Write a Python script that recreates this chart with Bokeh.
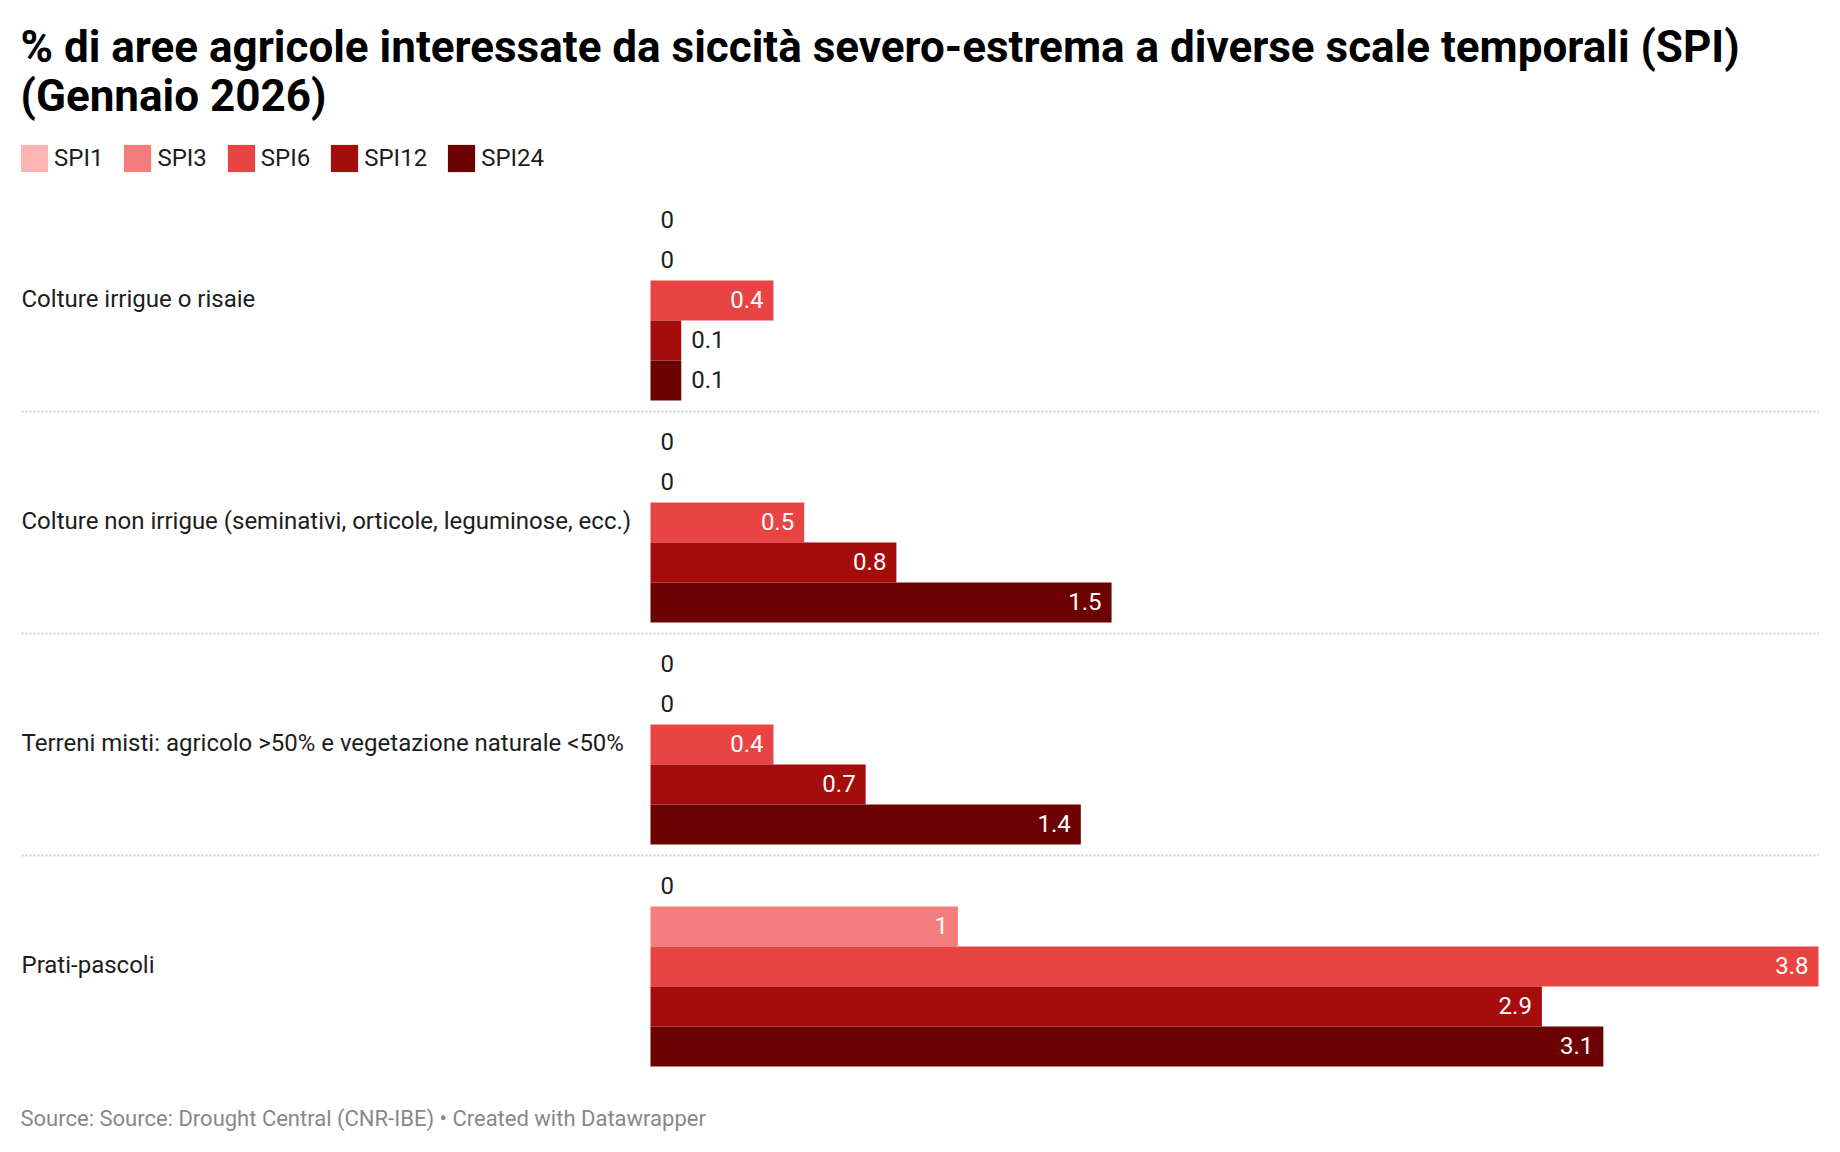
from bokeh.plotting import figure
from bokeh.models import Range1d, Legend, LegendItem, ColumnDataSource
from bokeh.core.properties import value
from bokeh.embed import file_html
from bokeh.resources import INLINE

# ---------------- data ----------------
categories = [
    "Colture irrigue o risaie",
    "Colture non irrigue (seminativi, orticole, leguminose, ecc.)",
    "Terreni misti: agricolo >50% e vegetazione naturale <50%",
    "Prati-pascoli",
]
series_names = ["SPI1", "SPI3", "SPI6", "SPI12", "SPI24"]
spi1 = [0, 0, 0, 0]
spi3 = [0, 0, 0, 1]
spi6 = [0.4, 0.5, 0.4, 3.8]
spi12 = [0.1, 0.8, 0.7, 2.9]
spi24 = [0.1, 1.5, 1.4, 3.1]
series_values = [spi1, spi3, spi6, spi12, spi24]

title_lines = [
    "% di aree agricole interessate da siccità severo-estrema a diverse scale temporali (SPI)",
    "(Gennaio 2026)",
]
footer_text = "Source: Source: Drought Central (CNR-IBE) • Created with Datawrapper"

# ---------------- style / layout ----------------
colors = ["#fcb4b4", "#f47c7c", "#e94444", "#a50d0d", "#6d0202"]
FONT = "Roboto"
W, H = 1824, 1136
LEFT = 21          # left edge of texts
RIGHT = 1818       # right edge of chart area
ZERO = 650         # pixel position of value 0
TOP = 200          # top of first group
BAR_H = 40
GAP = 22
N_SER = len(series_names)
GROUP_H = N_SER * BAR_H
VAL_FS = 24

max_val = max(max(s) for s in series_values)
pxu = (RIGHT - ZERO) / max_val

p = figure(
    width=W, height=H,
    x_range=Range1d(-ZERO / pxu, (W - ZERO) / pxu),
    y_range=Range1d(H, 0),
    x_axis_type=None, y_axis_type=None,
    output_backend="svg", toolbar_location=None,
    min_border=0, outline_line_color=None,
)
p.extra_x_ranges = {"px": Range1d(0, W)}
p.background_fill_color = "white"
p.border_fill_color = "white"

def group_top(g):
    return TOP + g * (GROUP_H + GAP)

# bars
legend_items = []
for s, (name, vals, col) in enumerate(zip(series_names, series_values, colors)):
    ys = [group_top(g) + s * BAR_H + BAR_H / 2 for g in range(len(categories))]
    src = ColumnDataSource(dict(y=ys, right=vals))
    r = p.hbar(y="y", left=0, right="right", height=BAR_H, source=src,
               fill_color=col, line_color=None)
    legend_items.append(LegendItem(label=name, renderers=[r]))

    # value labels
    inside_x, inside_y, inside_t = [], [], []
    out_x, out_y, out_t = [], [], []
    for v, y in zip(vals, ys):
        t = f"{v:g}"
        est_w = len(t) * 0.56 * VAL_FS
        if v * pxu > est_w + 20:
            inside_x.append(v); inside_y.append(y); inside_t.append(t)
        else:
            out_x.append(v); out_y.append(y); out_t.append(t)
    if inside_t:
        p.text(x=inside_x, y=inside_y, text=inside_t, x_offset=-10, y_offset=-1,
               text_align="right", text_baseline="middle", text_color="white",
               text_font=value(FONT), text_font_size=f"{VAL_FS}px")
    if out_t:
        p.text(x=out_x, y=out_y, text=out_t, x_offset=10, y_offset=-1,
               text_align="left", text_baseline="middle", text_color="#1d1d1d",
               text_font=value(FONT), text_font_size=f"{VAL_FS}px")

# category labels
p.text(x=[LEFT] * len(categories),
       y=[group_top(g) + GROUP_H / 2 for g in range(len(categories))],
       text=categories, x_range_name="px", y_offset=-2,
       text_align="left", text_baseline="middle", text_color="#1d1d1d",
       text_font=value(FONT), text_font_size="24px")

# separators
sep_y = [group_top(g) + GROUP_H + GAP / 2 for g in range(len(categories) - 1)]
p.segment(x0=[LEFT] * len(sep_y), x1=[RIGHT] * len(sep_y), y0=sep_y, y1=sep_y,
          x_range_name="px", line_color="#d0d0d0", line_width=2, line_dash="2 2")

# title
p.text(x=[LEFT - 1, LEFT - 1], y=[46, 95], text=title_lines, x_range_name="px",
       text_align="left", text_baseline="alphabetic", text_color="#000000",
       text_font=value(FONT), text_font_style="bold", text_font_size="44px")

# footer
p.text(x=[LEFT - 1], y=[1118], text=[footer_text], x_range_name="px",
       text_align="left", text_baseline="alphabetic", text_color="#888888",
       text_font=value(FONT), text_font_size="22px")

# legend (bokeh draws box glyphs inset by 10% of the glyph area)
GLYPH = 34
legend = Legend(items=legend_items, orientation="horizontal",
                location=(17, H - 175), padding=0, margin=0, spacing=17,
                label_standoff=3, glyph_width=GLYPH, glyph_height=GLYPH,
                label_text_font=FONT, label_text_font_size="24px",
                label_text_color="#1d1d1d", label_text_baseline="middle",
                border_line_color=None, background_fill_alpha=0)
p.add_layout(legend)

open("out.html", "w").write(file_html(p, INLINE))
